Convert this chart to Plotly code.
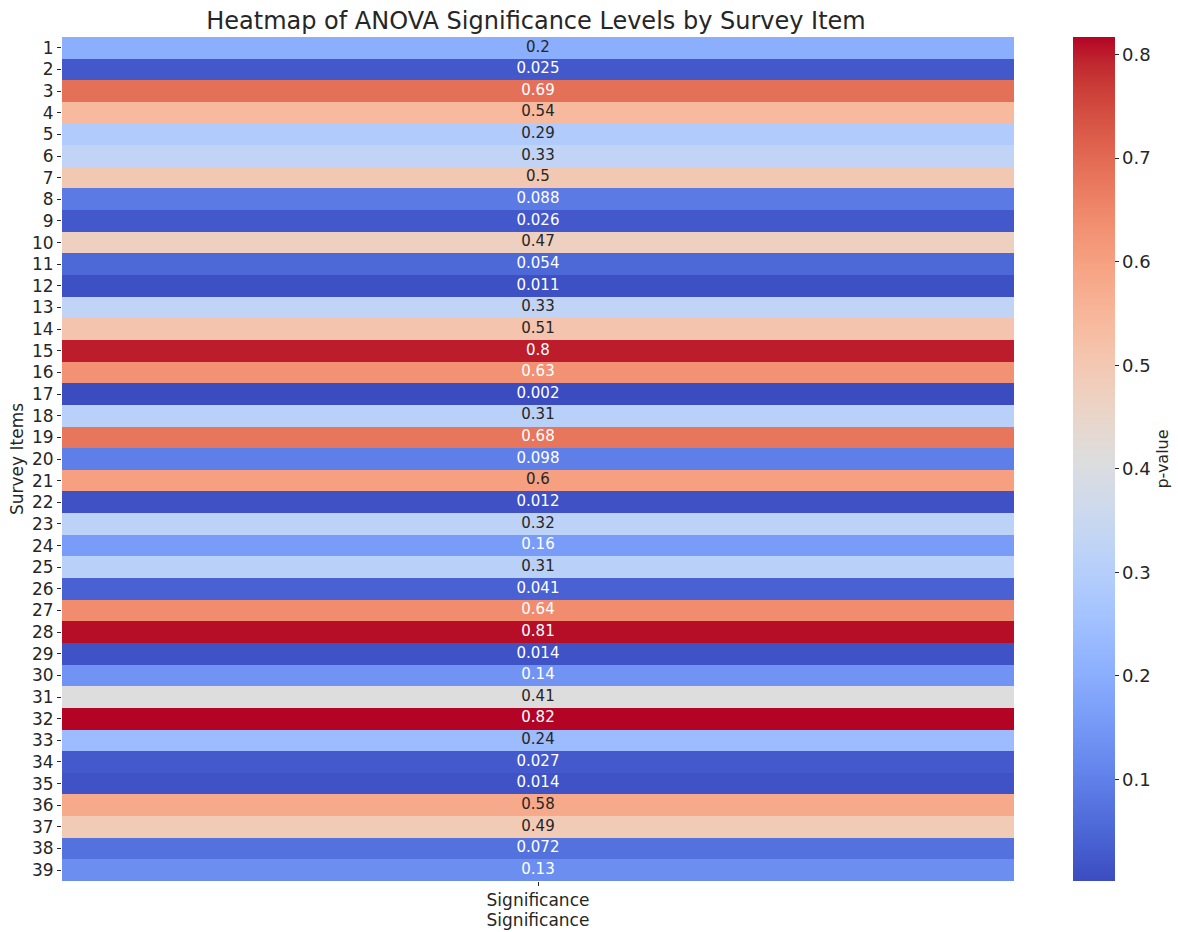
import plotly.graph_objects as go

# Survey items and their ANOVA p-values
items = [str(i) for i in range(1, 40)]
p_values = [0.2, 0.025, 0.69, 0.54, 0.29, 0.33, 0.5, 0.088, 0.026, 0.47,
            0.054, 0.011, 0.33, 0.51, 0.8, 0.63, 0.002, 0.31, 0.68, 0.098,
            0.6, 0.012, 0.32, 0.16, 0.31, 0.041, 0.64, 0.81, 0.014, 0.14,
            0.41, 0.817, 0.24, 0.027, 0.014, 0.58, 0.49, 0.072, 0.13]
column = ["Significance"]
cbar_ticks = [0.1, 0.2, 0.3, 0.4, 0.5, 0.6, 0.7, 0.8]

# Moreland's diverging "coolwarm" map, 33 samples
cw = [(59, 76, 192), (68, 90, 204), (77, 104, 215), (87, 117, 225), (98, 130, 234),
      (108, 142, 241), (119, 154, 247), (130, 165, 251), (141, 176, 254), (152, 185, 255),
      (163, 194, 255), (174, 201, 253), (184, 208, 249), (194, 213, 244), (204, 217, 238),
      (213, 219, 230), (221, 221, 221), (229, 216, 209), (236, 211, 197), (241, 204, 185),
      (245, 196, 173), (247, 187, 160), (247, 177, 148), (247, 166, 135), (244, 154, 123),
      (241, 141, 111), (236, 127, 99), (229, 112, 88), (222, 96, 77), (213, 80, 66),
      (203, 62, 56), (192, 40, 47), (180, 4, 38)]
n = len(cw) - 1
colorscale = [[i / n, f"rgb{c}"] for i, c in enumerate(cw)]

zmin, zmax = min(p_values), max(p_values)


def color_at(v):
    t = (v - zmin) / (zmax - zmin)
    t = max(0.0, min(1.0, t)) * n
    i = min(int(t), n - 1)
    f = t - i
    a, b = cw[i], cw[i + 1]
    return [(a[k] + (b[k] - a[k]) * f) / 255 for k in range(3)]


def luminance(rgb):
    lin = [c / 12.92 if c <= 0.03928 else ((c + 0.055) / 1.055) ** 2.4 for c in rgb]
    return 0.2126 * lin[0] + 0.7152 * lin[1] + 0.0722 * lin[2]


labels = [f"{v:.2g}" for v in p_values]
text_colors = ["#262626" if luminance(color_at(v)) > 0.408 else "white" for v in p_values]

DARK = "#262626"

fig = go.Figure()
fig.add_trace(go.Heatmap(
    z=[[v] for v in p_values],
    x=column,
    y=items,
    zmin=zmin,
    zmax=zmax,
    colorscale=colorscale,
    hoverinfo="skip",
    colorbar=dict(
        title=dict(text="p-value", side="right", font=dict(size=16, color=DARK)),
        thickness=42,
        len=1.0,
        lenmode="fraction",
        x=1.062,
        xanchor="left",
        xpad=0,
        y=0.5,
        yanchor="middle",
        ypad=0,
        outlinewidth=0,
        tickvals=cbar_ticks,
        ticktext=[f"{t:g}" for t in cbar_ticks],
        ticks="outside",
        ticklen=4,
        tickcolor=DARK,
        tickfont=dict(size=18, color=DARK),
    ),
))
fig.add_trace(go.Scatter(
    x=column * len(items),
    y=items,
    mode="text",
    text=labels,
    textfont=dict(size=15, color=text_colors),
    hoverinfo="skip",
    showlegend=False,
))

fig.update_layout(
    width=1178,
    height=932,
    margin=dict(l=62, r=164, t=37, b=51, autoexpand=False),
    paper_bgcolor="white",
    plot_bgcolor="white",
    font=dict(family="DejaVu Sans", color=DARK),
    title=dict(text="Heatmap of ANOVA Significance Levels by Survey Item",
               x=0.455, xanchor="center", y=0.978, yanchor="middle",
               font=dict(size=24, color=DARK)),
    showlegend=False,
)
fig.update_xaxes(
    type="category",
    range=[-0.5, 0.5],
    automargin=False,
    showgrid=False, zeroline=False, showline=False,
    ticks="outside", ticklen=4, tickcolor=DARK,
    tickfont=dict(size=17),
    title=dict(text="Significance", font=dict(size=17), standoff=4),
)
fig.update_yaxes(
    type="category",
    range=[len(items) - 0.5, -0.5],
    automargin=False,
    showgrid=False, zeroline=False, showline=False,
    ticks="outside", ticklen=4, tickcolor=DARK,
    tickfont=dict(size=17),
    title=dict(text="Survey Items", font=dict(size=17), standoff=4),
)

fig.write_html("out.html")
